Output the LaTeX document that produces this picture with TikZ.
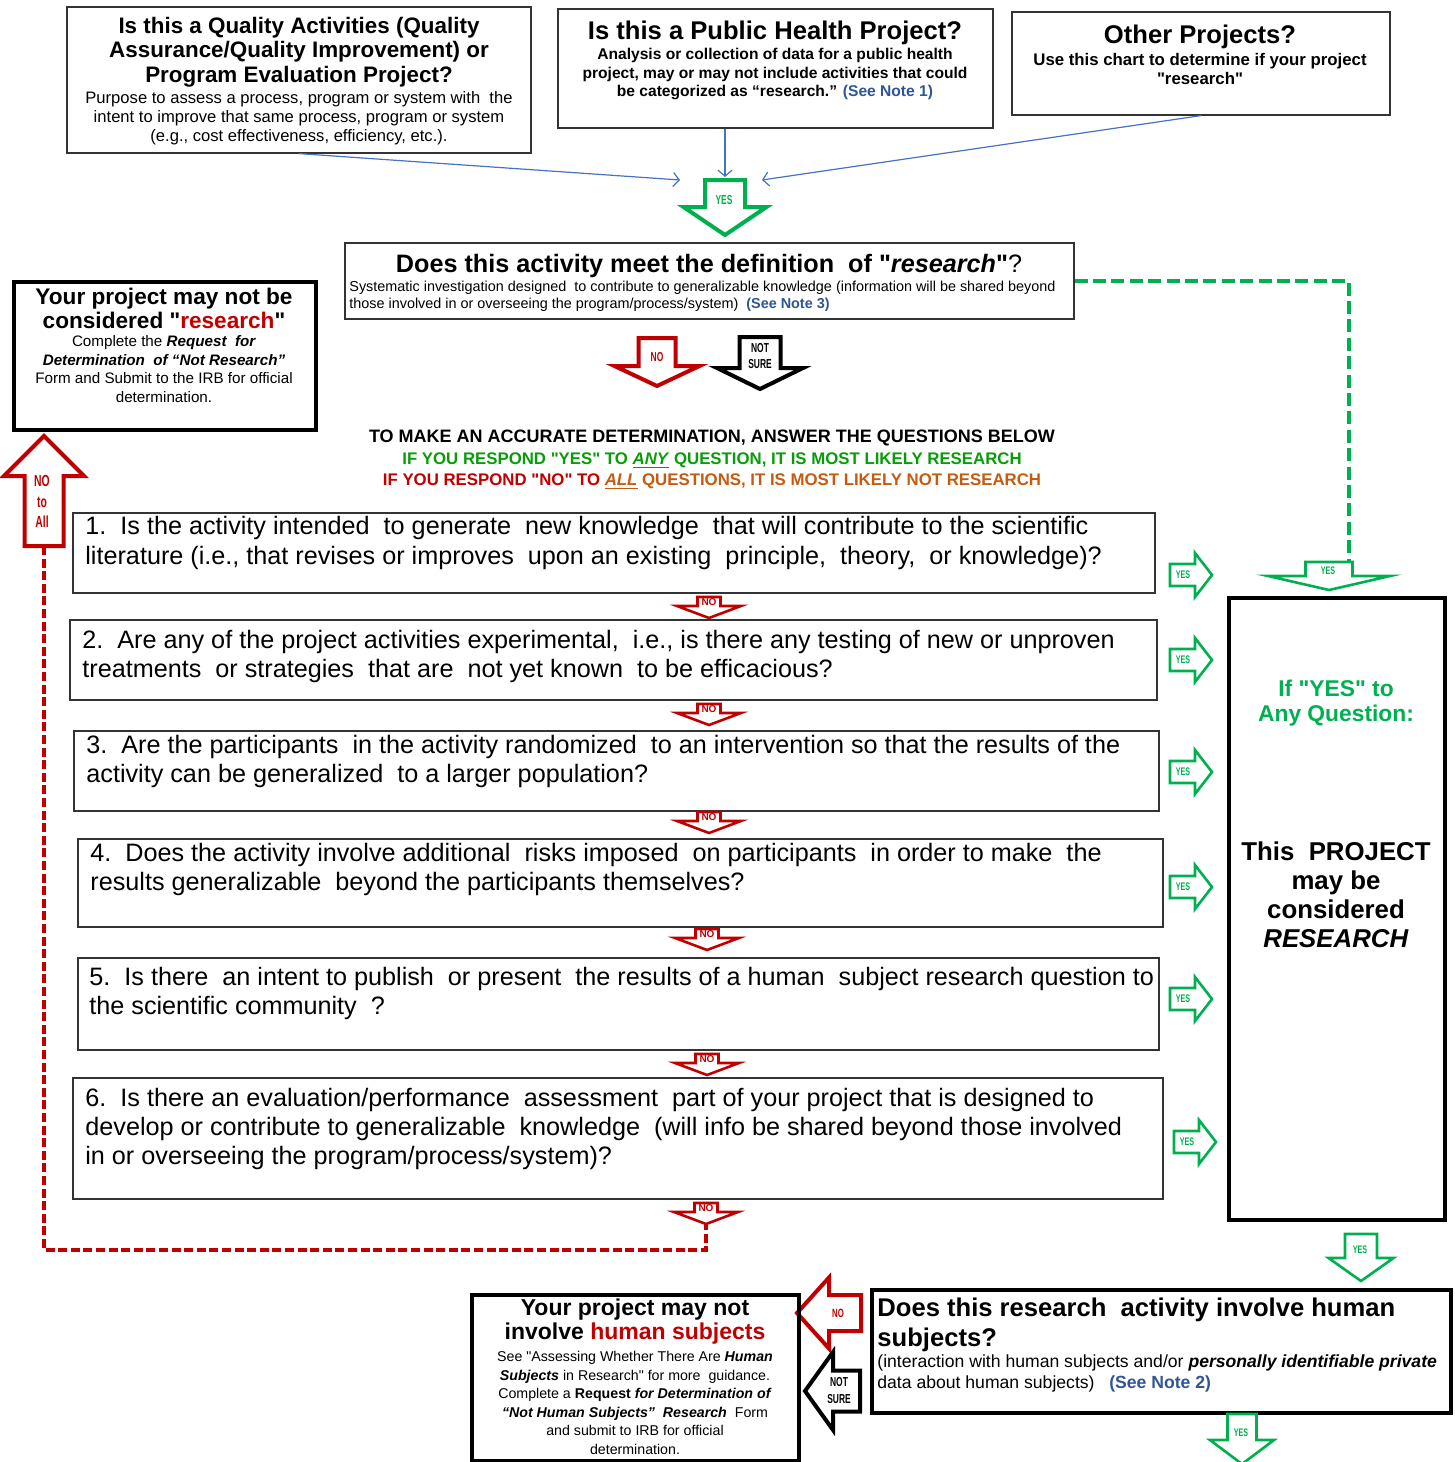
\documentclass[tikz,border=0pt]{standalone}
\usepackage{fontspec}
\setmainfont{Liberation Sans}[Ligatures=TeXOff]
\newfontfamily\narrowfont[FakeStretch=0.65, Ligatures=TeXOff]{Liberation Sans}
\usetikzlibrary{arrows.meta, fit}

\definecolor{yesGreen}{HTML}{00B050}
\definecolor{instGreen}{HTML}{0A9B0A}
\definecolor{noRed}{HTML}{C00000}
\definecolor{instBrown}{HTML}{C55A11}
\definecolor{noteBlue}{HTML}{2F5597}
\definecolor{feedBlue}{HTML}{4472C4}

\begin{document}
\begin{tikzpicture} [x=0.5pt, y=-0.5pt,
            thinbox/.style = {draw=black!80, line width=0.6pt, inner sep=0pt},
            thickbox/.style = {draw=black, line width=1.6pt, inner sep=0pt},
            txt/.style = {inner sep=0pt},
            bigblock/.style = {line width=2pt},
            smallblock/.style = {line width=1.3pt},
            pics/blockdown/.style n args = {5}{code = {
                \draw[fill=white, line join=miter, draw=#5]
                    (-#1,0) -- (#1,0) -- (#1,#2) -- (#3,#2) -- (0,#4)
                    -- (-#3,#2) -- (-#1,#2) -- cycle;}},
            feed/.style = {draw=feedBlue, line width=0.6pt,
                -{Straight Barb[length=3pt, width=7pt]}},
            yesdash/.style = {draw=yesGreen, line width=2pt,
                dash pattern=on 6.5pt off 2.7pt},
            nodash/.style = {draw=noRed, line width=2pt,
                dash pattern=on 4.5pt off 1.8pt},
            notag/.style = {inner sep=0pt, text=noRed,
                font=\fontsize{5}{6}\selectfont\bfseries},
            yestag/.style = {inner sep=0pt, text=yesGreen,
                font=\fontsize{5.5}{6}\selectfont\narrowfont\bfseries},
            question/.style = {txt, anchor=west, align=left,
                font=\fontsize{12.6}{14.7}\selectfont}]

        \useasboundingbox (0,0) rectangle (1455,1462);

        % Box QA
        \node (qa) [thinbox, fit={(67,7) (531,153)}] {};
        \node (qatitle) [txt, align=center,
            font=\fontsize{11.2}{12.25}\selectfont\bfseries] at (299,52)
            {Is this a Quality Activities (Quality\\
             Assurance/Quality Improvement) or\\
             Program Evaluation Project?};
        \node (qabody) [txt, align=center,
            font=\fontsize{8.3}{9.5}\selectfont] at (299,118)
            {Purpose to assess a process, program or system with\ \ the\\
             intent to improve that same process, program or system\\
             (e.g., cost effectiveness, efficiency, etc.).};

        % Box public health
        \node (ph) [thinbox, fit={(558,9) (993,128)}] {};
        \node (phtitle) [txt, font=\fontsize{12.8}{14}\selectfont\bfseries]
            at (775,33) {Is this a Public Health Project?};
        \node (phbody) [txt, align=center,
            font=\fontsize{7.8}{9.25}\selectfont\bfseries] at (775,74)
            {Analysis or collection of data for a public health\\
             project, may or may not include activities that could\\
             be categorized as “research.” {\color{noteBlue}(See Note 1)}};

        % Box other
        \node (other) [thinbox, fit={(1012,12) (1390,115)}] {};
        \node (othertitle) [txt, font=\fontsize{12.8}{14}\selectfont\bfseries]
            at (1200,37) {Other Projects?};
        \node (otherbody) [txt, align=center,
            font=\fontsize{8.4}{9.5}\selectfont\bfseries] at (1200,69)
            {Use this chart to determine if your project\\ "research"};

        % YES into research
        \pic (yestop) [bigblock] at (725,180) {blockdown={20}{27}{41.5}{55}{yesGreen}};
        \node (yestopt) [yestag, font=\fontsize{6.5}{7}\selectfont\narrowfont\bfseries]
            at (724,200) {YES};
        \coordinate (qaend) at (680,180);
        \coordinate (phend) at (725,177);
        \coordinate (otherend) at (762,180);

        % Box research
        \node (research) [thinbox, fit={(345,243) (1074,319)}] {};
        \node (restitle) [txt, font=\fontsize{12.6}{14}\selectfont\bfseries]
            at (709,266) {Does this activity meet the definition\ \ of "\textit{research}"{\mdseries ?}};
        \node (resbody) [txt, anchor=west, align=left,
            font=\fontsize{7.2}{8.5}\selectfont] at (349,296)
            {Systematic investigation designed\ \ to contribute to generalizable knowledge (information will be shared beyond\\
             those involved in or overseeing the program/process/system)\ \ {\bfseries\color{noteBlue}(See Note 3)}};

        % Box not research
        \node (lb) [thickbox, fit={(14,282) (316,430)}] {};
        \node (lbtitle) [txt, align=center,
            font=\fontsize{11.3}{12}\selectfont\bfseries] at (164,308)
            {Your project may not be\\ considered "{\color{noRed}research}"};
        \node (lbbody) [txt, align=center,
            font=\fontsize{7.6}{9.25}\selectfont] at (164,369)
            {Complete the \textbf{\textit{Request\ \ for}}\\
             \textbf{\textit{Determination\ \ of “Not Research”}}\\
             Form and Submit to the IRB for official\\ determination.};

        % NO and NOT SURE
        \pic (nobig) [bigblock] at (657,338) {blockdown={18.5}{28}{42.5}{48}{noRed}};
        \node (nobigt) [notag, font=\fontsize{6.5}{7}\selectfont\narrowfont\bfseries]
            at (657,357) {NO};
        \pic (notsure) [bigblock] at (760,337) {blockdown={20.5}{31}{43}{52}{black}};
        \node (notsuret) [txt, align=center,
            font=\fontsize{6.5}{8}\selectfont\narrowfont\bfseries] at (760,356)
            {NOT\\SURE};

        % Instructions
        \node (instr) [txt, align=center,
            font=\fontsize{9}{10.75}\selectfont\bfseries] at (712,460)
            {TO MAKE AN ACCURATE DETERMINATION, ANSWER THE QUESTIONS BELOW\\
             {\fontsize{8.4}{10.75}\selectfont\color{instGreen}IF YOU RESPOND "YES" TO \underline{\textit{ANY}} QUESTION, IT IS MOST LIKELY RESEARCH}\\
             {\fontsize{8.4}{10.75}\selectfont\color{noRed}IF YOU RESPOND "NO" TO }{\fontsize{8.4}{10.75}\selectfont\color{instBrown}\underline{\textit{ALL}} QUESTIONS, IT IS MOST LIKELY NOT RESEARCH}};

        % NO to All
        \pic (noall) [bigblock, rotate=180] at (44,546) {blockdown={19.5}{70}{40}{110}{noRed}};
        \node (noallt) [notag, align=center,
            font=\fontsize{8}{10.25}\selectfont\narrowfont\bfseries] at (42,501.5)
            {NO\\to\\All};
        \coordinate (noalltail) at (44,546);

        % Questions
        \node (q1) [thinbox, fit={(73,513) (1155,593)}] {};
        \node (q1t) [question] at (85,543)
            {1.\ \ Is the activity intended\ \ to generate\ \ new knowledge\ \ that will contribute to the scientific\\
             literature (i.e., that revises or improves\ \ upon an existing\ \ principle,\ \ theory,\ \ or knowledge)?};
        \node (q2) [thinbox, fit={(70,620) (1157,700)}] {};
        \node (q2t) [question] at (82,656.5)
            {2.\ \ Are any of the project activities experimental,\ \ i.e., is there any testing of new or unproven\\
             treatments\ \ or strategies\ \ that are\ \ not yet known\ \ to be efficacious?};
        \node (q3) [thinbox, fit={(74,731) (1159,811)}] {};
        \node (q3t) [question] at (86,761.5)
            {3.\ \ Are the participants\ \ in the activity randomized\ \ to an intervention so that the results of the\\
             activity can be generalized\ \ to a larger population?};
        \node (q4) [thinbox, fit={(78,839) (1163,927)}] {};
        \node (q4t) [question] at (90,869.5)
            {4.\ \ Does the activity involve additional\ \ risks imposed\ \ on participants\ \ in order to make\ \ the\\
             results generalizable\ \ beyond the participants themselves?};
        \node (q5) [thinbox, fit={(78,958) (1159,1050)}] {};
        \node (q5t) [question] at (89,993.5)
            {5.\ \ Is there\ \ an intent to publish\ \ or present\ \ the results of a human\ \ subject research question to\\
             the scientific community\ \ ?};
        \node (q6) [thinbox, fit={(73,1078) (1163,1199)}] {};
        \node (q6t) [question] at (85,1129)
            {6.\ \ Is there an evaluation/performance\ \ assessment\ \ part of your project that is designed to\\
             develop or contribute to generalizable\ \ knowledge\ \ (will info be shared beyond those involved\\
             in or overseeing the program/process/system)?};

        % NO between questions
        \pic (no1) [smallblock] at (709,597) {blockdown={11.5}{9}{32}{21}{noRed}};
        \node (no1t) [notag] at (709,602) {NO};
        \pic (no2) [smallblock] at (709,704) {blockdown={11.5}{9}{32}{21}{noRed}};
        \node (no2t) [notag] at (709,709) {NO};
        \pic (no3) [smallblock] at (709,812) {blockdown={11.5}{9}{32}{21}{noRed}};
        \node (no3t) [notag] at (709,817) {NO};
        \pic (no4) [smallblock] at (707,929) {blockdown={11.5}{9}{32}{21}{noRed}};
        \node (no4t) [notag] at (707,934) {NO};
        \pic (no5) [smallblock] at (707,1054) {blockdown={11.5}{9}{32}{21}{noRed}};
        \node (no5t) [notag] at (707,1059) {NO};
        \pic (no6) [smallblock] at (706,1203) {blockdown={11.5}{9}{32}{21}{noRed}};
        \node (no6t) [notag] at (706,1208) {NO};
        \coordinate (no6tip) at (706,1224);
        \coordinate (nocorner) at (706,1250);

        % YES beside questions
        \pic (yes1) [smallblock, rotate=90] at (1170,575) {blockdown={11}{25}{22}{42}{yesGreen}};
        \node (yes1t) [yestag] at (1183,575) {YES};
        \pic (yes2) [smallblock, rotate=90] at (1170,660) {blockdown={11}{25}{22}{42}{yesGreen}};
        \node (yes2t) [yestag] at (1183,660) {YES};
        \pic (yes3) [smallblock, rotate=90] at (1170,772) {blockdown={11}{25}{22}{42}{yesGreen}};
        \node (yes3t) [yestag] at (1183,772) {YES};
        \pic (yes4) [smallblock, rotate=90] at (1170,887) {blockdown={11}{25}{22}{42}{yesGreen}};
        \node (yes4t) [yestag] at (1183,887) {YES};
        \pic (yes5) [smallblock, rotate=90] at (1170,999) {blockdown={11}{25}{22}{42}{yesGreen}};
        \node (yes5t) [yestag] at (1183,999) {YES};
        \pic (yes6) [smallblock, rotate=90] at (1174,1142) {blockdown={11}{25}{22}{42}{yesGreen}};
        \node (yes6t) [yestag] at (1187,1142) {YES};

        % YES into research box
        \pic (yeswide) [smallblock] at (1329,562) {blockdown={23.5}{14}{61}{28}{yesGreen}};
        \node (yeswidet) [yestag] at (1328,571) {YES};
        \coordinate (yeswidetop) at (1349,562);

        % Box research result
        \node (rb) [thickbox, fit={(1229,598) (1445,1220)}] {};
        \node (rbyes) [txt, align=center, text=yesGreen,
            font=\fontsize{11.4}{12.5}\selectfont\bfseries] at (1336,703)
            {If "YES" to\\ Any Question:};
        \node (rbtext) [txt, align=center,
            font=\fontsize{12.9}{14.5}\selectfont\bfseries] at (1336,895)
            {This\ \ PROJECT\\ may be\\ considered\\ \textit{RESEARCH}};

        % YES into human subjects
        \pic (yesrb) [smallblock] at (1361,1234) {blockdown={16}{24}{32.5}{47}{yesGreen}};
        \node (yesrbt) [yestag] at (1360,1250) {YES};

        % Box human subjects
        \node (hs) [thickbox, fit={(872,1290) (1451,1413)}] {};
        \node (hstitle) [txt, anchor=west, align=left,
            font=\fontsize{12.8}{15}\selectfont\bfseries] at (877,1325)
            {Does this research\ \ activity involve human\\ subjects?};
        \node (hsbody) [txt, anchor=west, align=left,
            font=\fontsize{8.8}{10.5}\selectfont] at (877,1373)
            {(interaction with human subjects and/or \textbf{\textit{personally identifiable private}}\\
             data about human subjects)\ \ \ {\bfseries\color{noteBlue}(See Note 2)}};

        % YES out of human subjects
        \pic (yeshs) [smallblock] at (1242,1414) {blockdown={14.5}{26}{32}{50}{yesGreen}};
        \node (yeshst) [yestag] at (1241,1433) {YES};

        % NO and NOT SURE to the left
        \pic (noleft) [bigblock, rotate=-90] at (861,1313) {blockdown={18}{32}{35.5}{64}{noRed}};
        \node (noleftt) [notag, font=\fontsize{6}{7}\selectfont\narrowfont\bfseries]
            at (838,1313) {NO};
        \pic (notsureleft) [bigblock, rotate=-90] at (860,1391) {blockdown={20.5}{27}{39}{55}{black}};
        \node (notsureleftt) [txt, align=center,
            font=\fontsize{6.5}{8.5}\selectfont\narrowfont\bfseries] at (839,1390.5)
            {NOT\\SURE};

        % Box not human subjects
        \node (nhs) [thickbox, fit={(472,1295) (799,1461)}] {};
        \node (nhstitle) [txt, align=center,
            font=\fontsize{11.5}{12}\selectfont\bfseries] at (635,1322)
            {Your project may not\\ involve {\color{noRed}human subjects}};
        \node (nhsbody) [txt, align=center,
            font=\fontsize{7.1}{9.3}\selectfont] at (635,1403)
            {See "Assessing Whether There Are \textbf{\textit{Human}}\\
             \textbf{\textit{Subjects}} in Research" for more\ \ guidance.\\
             Complete a \textbf{Request \textit{for Determination of}}\\
             \textbf{\textit{“Not Human Subjects”\ \ Research}}\ \ Form\\
             and submit to IRB for official\\ determination.};

        % Arrows
        \draw [feed] (qa.south) -- (qaend);
        \draw [feed] (ph.south -| phend) -- (phend);
        \draw [feed] (other.south) -- (otherend);
        \draw [yesdash] (research.east) -| (yeswidetop);
        \draw [nodash] (noalltail) |- (nocorner) -- (no6tip);
\end{tikzpicture}
\end{document}
